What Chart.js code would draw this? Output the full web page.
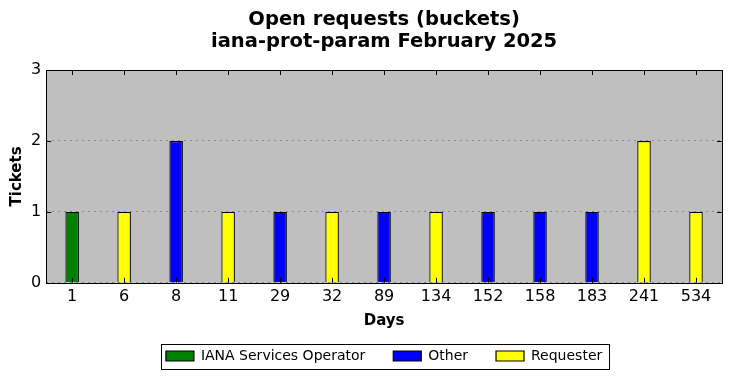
<!DOCTYPE html>
<html>
<head>
<meta charset="utf-8">
<script src="https://cdn.jsdelivr.net/npm/chart.js@4"></script>
<style>
  body { margin: 0; background: #fff; }
  #wrap { width: 731px; height: 378px; position: relative; }
</style>
</head>
<body>
<div id="wrap"><canvas id="ticketChart"></canvas></div>
<script>
'use strict'
{
  const days = ['1', '6', '8', '11', '29', '32', '89', '134', '152', '158', '183', '241', '534'];
  const operator = [1, null, null, null, null, null, null, null, null, null, null, null, null];
  const other = [null, null, 2, null, 1, null, 1, null, 1, 1, 1, null, null];
  const requester = [null, 1, null, 1, null, 1, null, 1, null, null, null, 2, 1];
  const yTicks = [0, 1, 2, 3];

  Chart.defaults.font.family = 'DejaVu Sans';
  Chart.defaults.color = '#000';

  const bar = (label, values, color) => ({
    label: label,
    data: values,
    backgroundColor: color,
    borderColor: '#000',
    borderWidth: 1.2,
    barPercentage: 0.26,
    categoryPercentage: 1,
  });

  // grey plot area, matplotlib-like inner tick marks, framed legend
  const frame = {
    id: 'frame',
    beforeDraw(chart) {
      const c = chart.ctx;
      const a = chart.chartArea;
      c.save();
      c.fillStyle = '#bfbfbf';
      c.fillRect(a.left, a.top, a.right - a.left, a.bottom - a.top);
      c.restore();
    },
    afterDraw(chart) {
      const c = chart.ctx;
      const a = chart.chartArea;
      const x = chart.scales.x;
      const y = chart.scales.y;
      c.save();
      c.strokeStyle = '#000';
      c.lineWidth = 1;
      days.forEach((d, i) => {
        const px = Math.round(x.getPixelForValue(i)) + 0.5;
        c.beginPath();
        c.moveTo(px, a.top); c.lineTo(px, a.top + 5);
        c.moveTo(px, a.bottom); c.lineTo(px, a.bottom - 5);
        c.stroke();
      });
      yTicks.forEach(v => {
        const py = Math.round(y.getPixelForValue(v)) + 0.5;
        c.beginPath();
        c.moveTo(a.left, py); c.lineTo(a.left + 5, py);
        c.moveTo(a.right, py); c.lineTo(a.right - 5, py);
        c.stroke();
      });
      c.strokeRect(Math.round(a.left) + 0.5, Math.round(a.top) + 0.5,
        Math.round(a.right - a.left), Math.round(a.bottom - a.top));
      const hb = chart.legend.legendHitBoxes;
      if (hb.length) {
        const l = hb[0].left - 5;
        const r = hb[hb.length - 1].left + hb[hb.length - 1].width + 7;
        const cy = hb[0].top + hb[0].height / 2;
        c.strokeRect(Math.round(l) + 0.5, Math.round(cy - 12) + 0.5, Math.round(r - l), 25);
      }
      c.restore();
    },
  };

  new Chart(document.getElementById('ticketChart'), {
    type: 'bar',
    data: {
      labels: days,
      datasets: [
        bar('IANA Services Operator', operator, '#008000'),
        bar('Other', other, '#0000ff'),
        bar('Requester', requester, '#ffff00'),
      ],
    },
    options: {
      responsive: true,
      maintainAspectRatio: false,
      animation: false,
      layout: { padding: { left: 8, right: 9, top: 0, bottom: 5 } },
      plugins: {
        title: {
          display: true,
          fullSize: false,
          text: ['Open requests (buckets)', 'iana-prot-param February 2025'],
          font: { size: 19.5, weight: 'bold', lineHeight: 1.13 },
          padding: { top: 9, bottom: 17 },
        },
        legend: {
          position: 'bottom',
          fullSize: false,
          labels: {
            boxWidth: 28,
            boxHeight: 10,
            padding: 28,
            font: { size: 14 },
          },
        },
        tooltip: { enabled: false },
      },
      scales: {
        x: {
          stacked: true,
          grid: { display: false, drawTicks: false },
          border: { display: false },
          ticks: { font: { size: 16 }, padding: 4 },
          title: { display: true, text: 'Days', font: { size: 15, weight: 'bold' }, padding: { top: 2, bottom: -9 } },
        },
        y: {
          stacked: true,
          min: 0,
          max: 3,
          ticks: { stepSize: 1, font: { size: 16 }, padding: 5 },
          grid: { color: '#8a8a8a', lineWidth: 1, drawTicks: false },
          border: { display: false, dash: [2, 4] },
          title: { display: true, text: 'Tickets', font: { size: 15, weight: 'bold' }, padding: { top: 0, bottom: 0 } },
        },
      },
    },
    plugins: [frame],
  });
}
</script>
</body>
</html>
